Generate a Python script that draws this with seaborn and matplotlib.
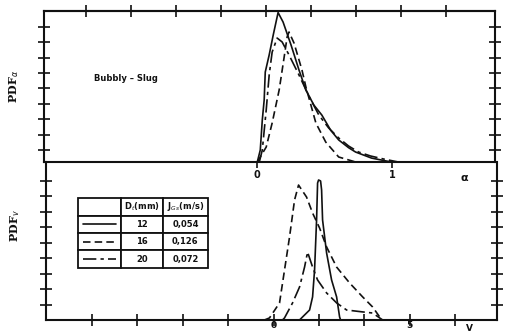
import numpy as np
import pandas as pd
import matplotlib
matplotlib.use("Agg")
import matplotlib.pyplot as plt
import seaborn as sns

# ---------------- data ----------------
# top panel: PDF of void fraction alpha
alpha_12 = [-0.06, 0.0, 0.022, 0.037, 0.051, 0.059, 0.088, 0.118, 0.154, 0.191, 0.25, 0.309,
            0.36, 0.419, 0.478, 0.544, 0.603, 0.676, 0.728, 0.846, 0.919, 0.993, 1.1]
pdfa_12 = [0, 0, 0.79, 2.78, 4.11, 5.96, 7.09, 8.41, 9.9, 9.27, 7.75, 6.09,
           4.77, 3.77, 3.11, 2.1, 1.46, 0.95, 0.66, 0.26, 0.13, 0, 0]
alpha_16 = [0.0, 0.066, 0.110, 0.162, 0.199, 0.221, 0.235, 0.272, 0.331, 0.360, 0.434,
            0.507, 0.603, 0.728, 0.846]
pdfa_16 = [0, 0.99, 2.58, 4.77, 6.95, 8.28, 8.61, 7.88, 6.09, 4.97, 2.58, 1.32, 0.33, 0, 0]
alpha_20 = [0.015, 0.037, 0.066, 0.088, 0.110, 0.147, 0.184, 0.235, 0.309, 0.382, 0.456,
            0.529, 0.603, 0.676, 0.75, 0.838, 0.934, 1.044]
pdfa_20 = [0, 0.79, 3.44, 5.76, 7.28, 8.21, 7.95, 7.09, 5.76, 4.37, 3.11, 2.25, 1.59,
           1.06, 0.66, 0.40, 0.20, 0]

# bottom panel: PDF of velocity V
v_12 = [0.956, 1.066, 1.324, 1.434, 1.507, 1.581, 1.618, 1.654, 1.728, 1.765, 1.801, 1.949,
        2.132, 2.316, 2.426, 2.463]
pdfv_12 = [0, 0.19, 0.63, 1.46, 3.16, 6.33, 8.67, 8.86, 8.80, 8.23, 6.33, 4.24, 2.53, 1.46,
           0.19, 0]
v_16 = [-0.33, -0.147, 0.221, 0.404, 0.588, 0.772, 0.919, 1.213, 1.434, 1.691, 1.949, 2.316,
        2.794, 3.272, 3.640, 3.897, 4.007]
pdfv_16 = [0, 0.13, 1.08, 3.16, 5.25, 7.59, 8.54, 7.78, 6.77, 5.82, 4.62, 3.35, 2.34, 1.46,
           0.82, 0.19, 0]
v_20 = [0.331, 0.404, 0.699, 0.956, 1.140, 1.25, 1.434, 1.618, 1.949, 2.316, 2.684, 3.272,
        3.640, 3.897, 4.007]
pdfv_20 = [0, 0.13, 1.08, 2.09, 3.35, 4.30, 3.35, 2.53, 1.71, 1.08, 0.63, 0.51, 0.44, 0.13, 0]

diameters = [12, 16, 20]
jgs = [0.054, 0.126, 0.072]
regime = "Bubbly – Slug"

# ---------------- style ----------------
sns.set_style("white")
plt.rcParams['font.family'] = ['DejaVu Sans']
ink = "#111111"
styles = {12: "-", 16: (0, (4.5, 2.5)), 20: (0, (8, 2.5, 2, 2.5))}
lw = 1.2

fig = plt.figure(figsize=(5.06, 3.34), dpi=100)
ax1 = fig.add_axes([0.087, 0.515, 0.891, 0.452])
ax2 = fig.add_axes([0.091, 0.042, 0.891, 0.473])
for ax in (ax1, ax2):
    ax.patch.set_visible(False)
    for s in ax.spines.values():
        s.set_color(ink)
        s.set_linewidth(1.5)

# top curves
for d, xs, ys in [(12, alpha_12, pdfa_12), (16, alpha_16, pdfa_16), (20, alpha_20, pdfa_20)]:
    df = pd.DataFrame({"alpha": xs, "pdf": ys})
    sns.lineplot(data=df, x="alpha", y="pdf", ax=ax1, color=ink, lw=lw, sort=False,
                 estimator=None, linestyle=styles[d])
# bottom curves
for d, xs, ys in [(12, v_12, pdfv_12), (16, v_16, pdfv_16), (20, v_20, pdfv_20)]:
    df = pd.DataFrame({"V": xs, "pdf": ys})
    sns.lineplot(data=df, x="V", y="pdf", ax=ax2, color=ink, lw=lw, sort=False,
                 estimator=None, linestyle=styles[d])

# ---- top axes ----
ax1.set_xlim(-1.58, 1.76)
ax1.set_ylim(0, 10)
ax1.set_xlabel("")
ax1.set_ylabel("")
ax1.set_xticks([0, 1])
ax1.set_xticklabels(["0", "1"], fontsize=7, fontweight="bold")
ax1.tick_params(axis="x", bottom=True, direction="out", length=4, width=1.2, pad=2, colors=ink)
ax1.text(1.53, -0.07, "α", transform=ax1.get_xaxis_transform(), fontsize=8,
         fontweight="bold", ha="center", va="top", color=ink)
sec = ax1.secondary_xaxis("top")
sec.set_xticks(np.arange(-1.267, 1.5, 1 / 3))
sec.tick_params(direction="inout", length=9, width=1.2, labeltop=False, colors=ink)
sec.spines["top"].set_linewidth(1.5)
ax1.set_yticks(np.linspace(0.8, 8.95, 9))
ax1.tick_params(axis="y", left=True, right=True, direction="inout", length=9, width=1.2,
                labelleft=False, colors=ink)
ax1.text(-0.066, 0.5, r"PDF$_\alpha$", transform=ax1.transAxes, rotation=90,
         family="DejaVu Serif", fontweight="bold", fontsize=8, ha="center", va="center", color=ink)
ax1.text(0.11, 0.55, regime, transform=ax1.transAxes, fontsize=6, fontweight="bold",
         ha="left", va="center", color=ink)

# ---- bottom axes ----
ax2.spines["top"].set_visible(False)
ax2.set_xlim(-8.35, 8.2)
ax2.set_ylim(0, 10)
ax2.set_xlabel("")
ax2.set_ylabel("")
vt = np.arange(-4, 5) * 5 / 3
ax2.set_xticks(vt)
ax2.set_xticklabels(["0" if abs(t) < 1e-9 else ("5" if abs(t - 5) < 1e-9 else "") for t in vt],
                    fontsize=6.5, fontweight="bold")
ax2.tick_params(axis="x", bottom=True, direction="inout", length=9, width=1.2, pad=-3.5,
                colors=ink)
ax2.text(7.2, -0.025, "V", transform=ax2.get_xaxis_transform(), fontsize=6.5,
         fontweight="bold", ha="center", va="top", color=ink)
ax2.set_yticks(np.linspace(0.95, 8.8, 9))
ax2.tick_params(axis="y", left=True, right=True, direction="inout", length=9, width=1.2,
                labelleft=False, colors=ink)
ax2.text(-0.068, 0.6, r"PDF$_v$", transform=ax2.transAxes, rotation=90,
         family="DejaVu Serif", fontweight="bold", fontsize=8, ha="center", va="center", color=ink)

# ---- legend table ----
bx, by, bw, bh = 0.071, 0.329, 0.288, 0.443
colw = [43, 42, 45]
cell_text = [["", r"D$_t$(mm)", r"J$_{Gs}$(m/s)"]] + \
            [["", f"{d}", f"{j:.3f}".replace(".", ",")] for d, j in zip(diameters, jgs)]
tab = ax2.table(cellText=cell_text, colWidths=[c / sum(colw) for c in colw],
                bbox=[bx, by, bw, bh], cellLoc="center")
tab.auto_set_font_size(False)
for (r, c), cell in tab.get_celld().items():
    cell.set_linewidth(1.3)
    cell.set_edgecolor(ink)
    cell.set_facecolor("white")
    cell.get_text().set_fontsize(6)
    cell.get_text().set_fontweight("bold")
    cell.get_text().set_color(ink)
    if c == 2 and r > 0:
        cell._loc = "left"
        cell.PAD = 0.03
nrows = len(diameters) + 1
w0 = bw * colw[0] / sum(colw)
for i, d in enumerate(diameters):
    yc = by + bh * (nrows - 1.5 - i) / nrows
    ax2.plot([bx + 0.12 * w0, bx + 0.88 * w0], [yc, yc], transform=ax2.transAxes,
             color=ink, lw=1.2, linestyle=styles[d], zorder=5)

fig.savefig("out.png", dpi=100)
